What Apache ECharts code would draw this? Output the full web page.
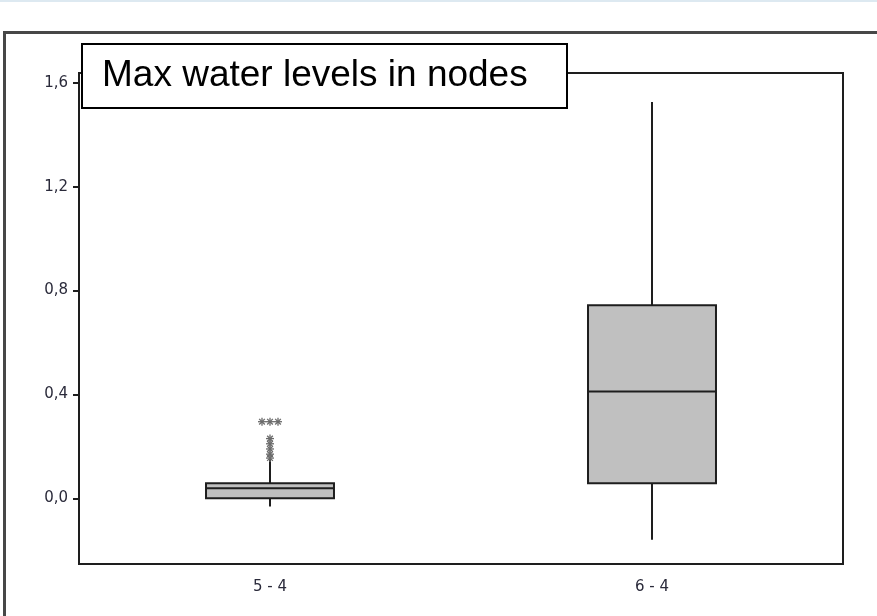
<!DOCTYPE html>
<html><head><meta charset="utf-8">
<script src="https://cdn.jsdelivr.net/npm/echarts@6/dist/echarts.min.js"></script>
<style>html,body{margin:0;padding:0;background:#fff}#c{width:877px;height:616px}</style>
</head><body><div id="c"></div>
<script>
// ---- data ----
const categories = ['5 - 4', '6 - 4'];
const whiskerLow = [-0.032, -0.16];
const q1 = [0.0, 0.058];
const median = [0.039, 0.411];
const q3 = [0.058, 0.744];
const whiskerHigh = [0.15, 1.526];
const outlierCategory = [0, 0, 0, 0, 0, 0, 0, 0];
const outlierValues = [0.295, 0.295, 0.295, 0.23, 0.21, 0.19, 0.17, 0.155];
const yTicks = [0, 0.4, 0.8, 1.2, 1.6];
const titleText = 'Max water levels in nodes';

// ---- build series data ----
const boxData = categories.map((c, i) => [i, whiskerLow[i], q1[i], median[i], q3[i], whiskerHigh[i]]);
const outlierData = outlierValues.map((v, i) => [outlierCategory[i], v]);
// spread tied outliers sideways (rendering rule)
const dupIndex = [], dupCount = [];
outlierData.forEach((d, i) => {
  const same = outlierData.filter(e => e[0] === d[0] && e[1] === d[1]).length;
  const before = outlierData.slice(0, i).filter(e => e[0] === d[0] && e[1] === d[1]).length;
  dupIndex.push(before); dupCount.push(same);
});

const LINE = '#1e1e1e';
const LABEL = '#2a2a3a';
const chart = echarts.init(document.getElementById('c'), null, {renderer: 'canvas'});
chart.setOption({
  animation: false,
  backgroundColor: '#fff',
  title: {
    text: titleText,
    left: 82, top: 44,
    padding: [12, 40, 12, 20],
    borderWidth: 2, borderColor: '#000', backgroundColor: '#fff',
    z: 20,
    textStyle: {fontFamily: 'Liberation Sans, Arial, sans-serif', fontSize: 37, fontWeight: 'normal', color: '#000', lineHeight: 40}
  },
  graphic: [
    {type: 'rect', z: 0, shape: {x: 0, y: 0, width: 877, height: 2}, style: {fill: '#dde9f1'}},
    {type: 'rect', z: 0, shape: {x: 4.5, y: 32.5, width: 1000, height: 1000}, style: {fill: 'none', stroke: '#474747', lineWidth: 3}}
  ],
  grid: {left: 79, top: 73, right: 34, bottom: 52, show: true, borderColor: LINE, borderWidth: 2, backgroundColor: 'transparent'},
  xAxis: {
    type: 'category', data: categories,
    axisLine: {onZero: false, lineStyle: {color: LINE, width: 2}},
    axisTick: {alignWithLabel: true, length: 8, lineStyle: {color: LINE, width: 2}},
    axisLabel: {margin: 16, fontFamily: 'DejaVu Sans', fontSize: 15, color: LABEL},
    splitLine: {show: false}
  },
  yAxis: {
    type: 'value', min: -0.253, max: 1.638,
    axisLine: {show: true, lineStyle: {color: LINE, width: 2}},
    axisTick: {show: true, length: 6, customValues: yTicks, lineStyle: {color: LINE, width: 2}},
    axisLabel: {margin: 11, fontFamily: 'DejaVu Sans', fontSize: 15, color: LABEL, customValues: yTicks,
      formatter: v => v.toFixed(1).replace('.', ',')},
    splitLine: {show: false}
  },
  series: [
    {
      type: 'custom', name: 'box',
      data: boxData,
      encode: {x: 0, y: [1, 2, 3, 4, 5]},
      renderItem: function (params, api) {
        const x = api.value(0);
        const pLow = api.coord([x, api.value(1)]);
        const pQ1 = api.coord([x, api.value(2)]);
        const pMed = api.coord([x, api.value(3)]);
        const pQ3 = api.coord([x, api.value(4)]);
        const pHigh = api.coord([x, api.value(5)]);
        const band = api.size([1, 0])[0];
        const half = band * 0.335 / 2;
        const cx = pMed[0];
        const ls = {stroke: LINE, lineWidth: 2};
        return {type: 'group', children: [
          {type: 'line', shape: {x1: cx, y1: pQ1[1], x2: cx, y2: pLow[1]}, style: ls},
          {type: 'line', shape: {x1: cx, y1: pQ3[1], x2: cx, y2: pHigh[1]}, style: ls},
          {type: 'rect', shape: {x: cx - half, y: pQ3[1], width: half * 2, height: pQ1[1] - pQ3[1]},
            style: {fill: '#c0c0c0', stroke: LINE, lineWidth: 2}},
          {type: 'line', shape: {x1: cx - half, y1: pMed[1], x2: cx + half, y2: pMed[1]}, style: ls}
        ]};
      }
    },
    {
      type: 'custom', name: 'outliers',
      data: outlierData,
      encode: {x: 0, y: 1},
      z: 3,
      renderItem: function (params, api) {
        const p = api.coord([api.value(0), api.value(1)]);
        const i = params.dataIndex;
        const cx = p[0] + (dupIndex[i] - (dupCount[i] - 1) / 2) * 8;
        const cy = p[1];
        const r = 4;
        const st = {stroke: '#6a6a6a', lineWidth: 1.3};
        const d = r * 0.7071;
        return {type: 'group', children: [
          {type: 'line', shape: {x1: cx - r, y1: cy, x2: cx + r, y2: cy}, style: st},
          {type: 'line', shape: {x1: cx, y1: cy - r, x2: cx, y2: cy + r}, style: st},
          {type: 'line', shape: {x1: cx - d, y1: cy - d, x2: cx + d, y2: cy + d}, style: st},
          {type: 'line', shape: {x1: cx - d, y1: cy + d, x2: cx + d, y2: cy - d}, style: st}
        ]};
      }
    }
  ]
});
</script></body></html>
